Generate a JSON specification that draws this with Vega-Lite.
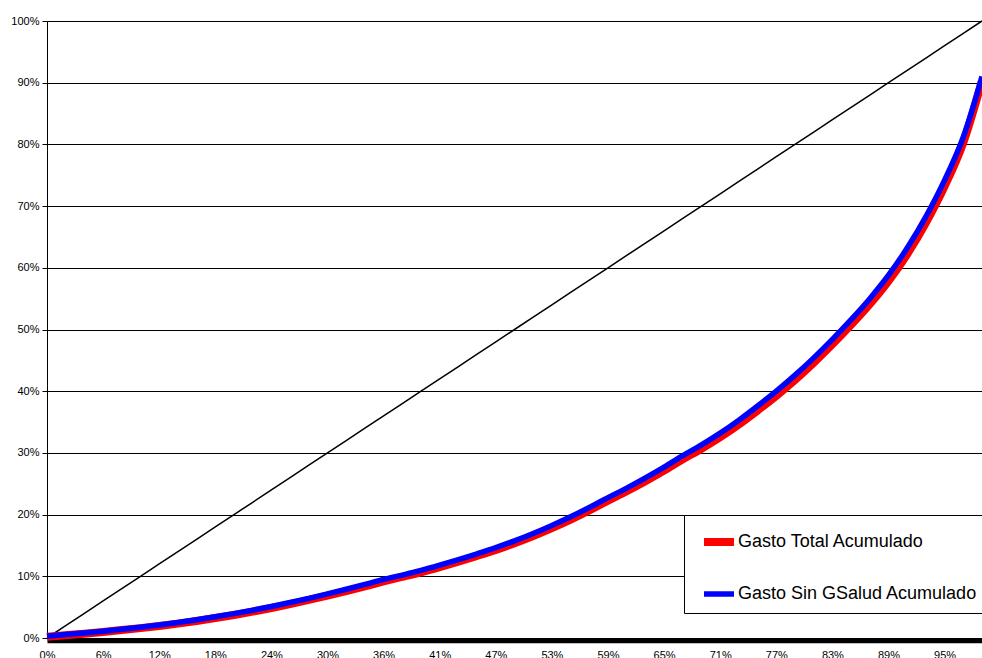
{
  "$schema": "https://vega.github.io/schema/vega-lite/v6.json",
  "width": 935,
  "height": 617,
  "autosize": {"type": "none"},
  "padding": {"left": 47, "top": 21, "right": 0, "bottom": 20},
  "background": "white",
  "config": {
    "view": {"stroke": null},
    "font": "Liberation Sans"
  },
  "data": {"values": [
    {"pob": "0%", "eq": 0, "total": 0.2, "sin": 0.3},
    {"pob": "2%", "eq": 2, "total": 0.45, "sin": 0.55},
    {"pob": "4%", "eq": 4, "total": 0.7, "sin": 0.82},
    {"pob": "6%", "eq": 6, "total": 0.98, "sin": 1.11},
    {"pob": "8%", "eq": 8, "total": 1.28, "sin": 1.42},
    {"pob": "10%", "eq": 10, "total": 1.6, "sin": 1.75},
    {"pob": "12%", "eq": 12, "total": 1.95, "sin": 2.11},
    {"pob": "14%", "eq": 14, "total": 2.33, "sin": 2.51},
    {"pob": "16%", "eq": 16, "total": 2.76, "sin": 2.95},
    {"pob": "18%", "eq": 18, "total": 3.23, "sin": 3.43},
    {"pob": "20%", "eq": 20, "total": 3.73, "sin": 3.95},
    {"pob": "22%", "eq": 22, "total": 4.28, "sin": 4.51},
    {"pob": "24%", "eq": 24, "total": 4.87, "sin": 5.11},
    {"pob": "26%", "eq": 26, "total": 5.5, "sin": 5.75},
    {"pob": "28%", "eq": 28, "total": 6.17, "sin": 6.43},
    {"pob": "30%", "eq": 30, "total": 6.87, "sin": 7.15},
    {"pob": "32%", "eq": 32, "total": 7.6, "sin": 7.9},
    {"pob": "34%", "eq": 34, "total": 8.37, "sin": 8.68},
    {"pob": "36%", "eq": 36, "total": 9.17, "sin": 9.49},
    {"pob": "38%", "eq": 38, "total": 9.92, "sin": 10.2},
    {"pob": "40%", "eq": 40, "total": 10.65, "sin": 10.95},
    {"pob": "41%", "eq": 42, "total": 11.48, "sin": 11.8},
    {"pob": "43%", "eq": 44, "total": 12.36, "sin": 12.7},
    {"pob": "45%", "eq": 46, "total": 13.3, "sin": 13.65},
    {"pob": "47%", "eq": 48, "total": 14.28, "sin": 14.65},
    {"pob": "49%", "eq": 50, "total": 15.36, "sin": 15.75},
    {"pob": "51%", "eq": 52, "total": 16.53, "sin": 16.95},
    {"pob": "53%", "eq": 54, "total": 17.81, "sin": 18.25},
    {"pob": "55%", "eq": 56, "total": 19.19, "sin": 19.65},
    {"pob": "57%", "eq": 58, "total": 20.67, "sin": 21.15},
    {"pob": "59%", "eq": 60, "total": 22.25, "sin": 22.75},
    {"pob": "61%", "eq": 62, "total": 23.78, "sin": 24.3},
    {"pob": "63%", "eq": 64, "total": 25.4, "sin": 25.95},
    {"pob": "65%", "eq": 66, "total": 27.12, "sin": 27.7},
    {"pob": "67%", "eq": 68, "total": 28.95, "sin": 29.55},
    {"pob": "69%", "eq": 70, "total": 30.68, "sin": 31.3},
    {"pob": "71%", "eq": 72, "total": 32.55, "sin": 33.2},
    {"pob": "73%", "eq": 74, "total": 34.62, "sin": 35.3},
    {"pob": "75%", "eq": 76, "total": 36.88, "sin": 37.6},
    {"pob": "77%", "eq": 78, "total": 39.25, "sin": 40.0},
    {"pob": "79%", "eq": 80, "total": 41.82, "sin": 42.6},
    {"pob": "81%", "eq": 82, "total": 44.6, "sin": 45.4},
    {"pob": "83%", "eq": 84, "total": 47.6, "sin": 48.4},
    {"pob": "85%", "eq": 86, "total": 50.75, "sin": 51.6},
    {"pob": "87%", "eq": 88, "total": 54.1, "sin": 55.0},
    {"pob": "89%", "eq": 90, "total": 57.85, "sin": 58.8},
    {"pob": "91%", "eq": 92, "total": 62.2, "sin": 63.2},
    {"pob": "93%", "eq": 94, "total": 67.3, "sin": 68.3},
    {"pob": "95%", "eq": 96, "total": 73.2, "sin": 74.2},
    {"pob": "96%", "eq": 98, "total": 80.3, "sin": 81.2},
    {"pob": "98%", "eq": 100, "total": 90.3, "sin": 91.0}
  ]},
  "encoding": {
    "x": {
      "field": "pob",
      "type": "ordinal",
      "sort": null,
      "scale": {"type": "point", "padding": 0},
      "axis": {
        "title": null,
        "values": ["0%", "6%", "12%", "18%", "24%", "30%", "36%", "41%", "47%", "53%", "59%", "65%", "71%", "77%", "83%", "89%", "95%"],
        "labelAngle": 0,
        "labelFontSize": 11,
        "labelColor": "black",
        "ticks": false,
        "grid": false,
        "domainColor": "black",
        "domainWidth": 4.5,
        "offset": 2.5,
        "labelPadding": 9
      }
    }
  },
  "layer": [
    {
      "mark": {"type": "line", "color": "black", "strokeWidth": 1.5},
      "encoding": {
        "y": {
          "field": "eq",
          "type": "quantitative",
          "scale": {"domain": [0, 100], "nice": false},
          "axis": {
            "title": null,
            "values": [0, 10, 20, 30, 40, 50, 60, 70, 80, 90, 100],
            "labelExpr": "datum.value + '%'",
            "labelFontSize": 11,
            "labelColor": "black",
            "labelPadding": 3,
            "tickSize": 5,
            "tickColor": "black",
            "domainColor": "black",
            "domainWidth": 1,
            "grid": true,
            "gridColor": "black",
            "gridWidth": 1,
            "gridOpacity": 1
          }
        }
      }
    },
    {
      "transform": [{"fold": ["total", "sin"], "as": ["serie", "valor"]}],
      "mark": {"type": "line", "interpolate": "monotone"},
      "encoding": {
        "y": {
          "field": "valor",
          "type": "quantitative",
          "axis": {
            "title": null,
            "values": [0, 10, 20, 30, 40, 50, 60, 70, 80, 90, 100],
            "labelExpr": "datum.value + '%'",
            "labelFontSize": 11,
            "labelColor": "black",
            "labelPadding": 3,
            "tickSize": 5,
            "tickColor": "black",
            "domainColor": "black",
            "domainWidth": 1,
            "grid": true,
            "gridColor": "black",
            "gridWidth": 1,
            "gridOpacity": 1
          }
        },
        "color": {
          "field": "serie",
          "type": "nominal",
          "sort": null,
          "scale": {"domain": ["total", "sin"], "range": ["#ff0000", "#0000ff"]},
          "legend": {
            "orient": "none",
            "legendX": 637,
            "legendY": 494,
            "title": null,
            "symbolType": "stroke",
            "symbolStrokeWidth": 3,
            "symbolSize": 900,
            "symbolOffset": 8,
            "labelFontSize": 18,
            "labelColor": "black",
            "labelOffset": 0,
            "labelLimit": 400,
            "padding": 8,
            "rowPadding": 18,
            "strokeColor": "black",
            "fillColor": "white",
            "labelExpr": "datum.label == 'total' ? 'Gasto Total Acumulado' : 'Gasto Sin GSalud Acumulado'"
          }
        },
        "strokeWidth": {
          "field": "serie",
          "type": "nominal",
          "scale": {"domain": ["total", "sin"], "range": [8, 5.5]},
          "legend": null
        }
      }
    }
  ]
}
